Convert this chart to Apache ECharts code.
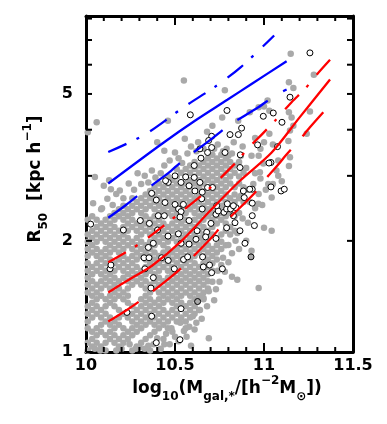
<!DOCTYPE html>
<html>
<head>
    <title>R50 vs stellar mass</title>
    <script src="https://cdn.jsdelivr.net/npm/echarts@6/dist/echarts.min.js"></script>
</head>
<body style="margin:0;">
    <div id="chart" style="width: 387px; height: 424px;"></div>
    <script>
        // grey galaxies, dense part: each row is [log10 M, R50, R50, ...]
        var greyCols = [
          [10.01, 1.01,1.06,1.16,1.21,1.27,1.33,1.45,1.52,1.59,1.66,1.74,1.82,1.90,1.99,2.08,2.28],
          [10.035, 1.035,1.085,1.135,1.24,1.30,1.36,1.42,1.485,1.555,1.625,1.70,1.86,1.945,2.035,2.13,2.33],
          [10.06, 1.06,1.11,1.16,1.27,1.33,1.39,1.45,1.52,1.66,1.74,1.82,1.90,1.99,2.08,2.18,2.28],
          [10.085, 1.035,1.135,1.185,1.24,1.30,1.42,1.485,1.555,1.625,1.70,1.78,1.86,2.035,2.13,2.23,2.435],
          [10.11, 1.01,1.06,1.11,1.21,1.27,1.33,1.39,1.52,1.59,1.66,1.74,1.82,1.90,1.99,2.08,2.18,2.28],
          [10.135, 1.085,1.135,1.185,1.24,1.36,1.42,1.485,1.555,1.625,1.78,1.86,1.945,2.035,2.13,2.23,2.33],
          [10.16, 1.06,1.11,1.16,1.21,1.33,1.39,1.45,1.52,1.59,1.66,1.74,1.90,1.99,2.08,2.18,2.28,2.38],
          [10.185, 1.035,1.085,1.185,1.24,1.30,1.42,1.485,1.555,1.70,1.78,1.86,1.945,2.035,2.13,2.33,2.435],
          [10.21, 1.06,1.11,1.16,1.27,1.39,1.45,1.59,1.66,1.74,1.82,1.90,1.99,2.08,2.18,2.28,2.38,2.49],
          [10.235, 1.085,1.135,1.24,1.36,1.42,1.485,1.555,1.625,1.70,1.78,1.945,2.035,2.13,2.23,2.33,2.435],
          [10.26, 1.01,1.11,1.16,1.21,1.27,1.33,1.52,1.59,1.66,1.74,1.82,1.90,1.99,2.18,2.28,2.38,2.49,2.61],
          [10.285, 1.035,1.135,1.185,1.24,1.30,1.555,1.625,1.70,1.78,1.86,1.945,2.035,2.13,2.23,2.435,2.55],
          [10.31, 1.06,1.16,1.21,1.27,1.33,1.39,1.52,1.59,1.66,1.82,1.90,1.99,2.08,2.18,2.28,2.38,2.49,2.61],
          [10.335, 1.085,1.185,1.24,1.30,1.36,1.42,1.485,1.555,1.625,1.70,1.78,1.86,1.945,2.13,2.23,2.33,2.435,2.55,2.67],
          [10.36, 1.01,1.11,1.21,1.27,1.33,1.39,1.45,1.52,1.66,1.74,1.82,1.90,1.99,2.08,2.18,2.28,2.49,2.61,2.73],
          [10.385, 1.135,1.185,1.24,1.30,1.36,1.485,1.555,1.625,1.70,1.78,1.86,1.945,2.035,2.13,2.23,2.33,2.435,2.55,2.67,2.795],
          [10.41, 1.16,1.21,1.27,1.33,1.39,1.45,1.52,1.59,1.66,1.74,1.82,1.99,2.08,2.18,2.28,2.38,2.49,2.61,2.73,2.86],
          [10.435, 1.085,1.185,1.24,1.30,1.36,1.42,1.485,1.555,1.70,1.78,1.86,1.945,2.035,2.13,2.23,2.33,2.435,2.55,2.67,2.795],
          [10.46, 1.16,1.21,1.27,1.39,1.45,1.52,1.59,1.66,1.74,1.82,1.90,1.99,2.08,2.18,2.38,2.49,2.61,2.73,2.86,2.99],
          [10.485, 1.135,1.24,1.30,1.36,1.42,1.485,1.555,1.625,1.70,1.78,1.86,2.035,2.13,2.23,2.33,2.435,2.55,2.67,2.795,2.925],
          [10.51, 1.21,1.27,1.33,1.39,1.45,1.52,1.59,1.66,1.74,1.82,1.90,1.99,2.08,2.18,2.28,2.38,2.49,2.61,2.73,2.86,2.99,3.13],
          [10.535, 1.24,1.36,1.42,1.485,1.555,1.625,1.70,1.78,1.86,1.945,2.035,2.13,2.23,2.33,2.435,2.55,2.67,2.795,3.06],
          [10.56, 1.16,1.21,1.27,1.33,1.45,1.52,1.59,1.66,1.74,1.82,1.90,1.99,2.08,2.18,2.28,2.38,2.49,2.61,2.73,2.86,2.99,3.13],
          [10.585, 1.24,1.30,1.36,1.42,1.485,1.555,1.625,1.70,1.78,1.86,1.945,2.035,2.13,2.23,2.435,2.55,2.67,2.795,2.925,3.06,3.20],
          [10.61, 1.27,1.33,1.39,1.45,1.52,1.59,1.66,1.74,1.82,1.90,1.99,2.08,2.18,2.28,2.38,2.49,2.61,2.73,2.86,2.99,3.13,3.27],
          [10.635, 1.30,1.42,1.485,1.555,1.625,1.70,1.86,1.945,2.035,2.13,2.23,2.33,2.435,2.55,2.67,2.795,2.925,3.06,3.20],
          [10.66, 1.39,1.45,1.52,1.59,1.66,1.74,1.82,1.90,1.99,2.08,2.18,2.28,2.38,2.49,2.61,2.73,2.86,2.99,3.13,3.27],
          [10.685, 1.485,1.555,1.625,1.70,1.78,1.86,1.945,2.035,2.13,2.33,2.435,2.55,2.67,2.795,2.925,3.06,3.20,3.345],
          [10.71, 1.66,1.74,1.82,1.90,2.08,2.18,2.28,2.38,2.49,2.61,2.73,2.86,2.99,3.13,3.27,3.42],
          [10.735, 1.78,1.86,1.945,2.035,2.23,2.33,2.435,2.55,2.67,2.795,2.925,3.06,3.20,3.345],
          [10.76, 1.90,1.99,2.08,2.28,2.38,2.49,2.61,2.73,2.86,2.99,3.13,3.27,3.42],
          [10.785, 1.945,2.13,2.23,2.33,2.55,2.67,2.795,2.925,3.06,3.20,3.345],
          [10.81, 2.08,2.18,2.38,2.49,2.61,2.86,2.99,3.13,3.27],
          [10.835, 2.13,2.33,2.55,2.67,2.795,3.06,3.20],
          [10.86, 2.38,2.61,2.86,2.99,3.27],
          [10.885, 2.55,2.795,3.06]
        ];

        // grey galaxies, scattered ones round the edges
        var greySparse = [
          [10.01,3.94],[10.06,4.19],[10.05,2.98],[10.10,2.82],[10.14,2.76],[10.04,2.53],[10.17,2.68],[10.21,2.61],
          [10.09,2.45],[10.12,2.60],[10.15,2.50],[10.13,2.92],[10.19,2.74],[10.24,2.86],[10.27,2.75],[10.29,3.05],
          [10.31,2.85],[10.33,3.00],[10.35,2.88],[10.37,3.10],[10.39,2.97],[10.40,3.70],[10.44,3.51],[10.46,4.23],
          [10.50,3.47],[10.555,3.78],[10.55,5.44],[10.42,3.05],[10.44,3.20],[10.47,3.30],[10.52,3.35],[10.54,3.25],
          [10.57,3.45],[10.59,3.60],[10.62,3.50],[10.63,3.70],[10.66,3.55],[10.68,3.95],[10.71,4.10],[10.72,3.55],
          [10.74,3.65],[10.765,4.32],[10.78,5.12],[10.77,3.50],[10.79,3.55],[10.80,3.40],[10.82,3.45],[10.83,3.70],
          [10.855,4.23],[10.87,3.40],[10.88,3.60],[10.90,3.15],[10.92,4.46],[10.93,3.40],[10.95,3.80],[10.97,4.60],
          [10.98,3.55],[11.00,4.62],[11.02,4.80],[11.03,4.50],[11.00,3.70],[11.03,3.90],[11.05,3.65],[11.07,3.10],
          [11.08,3.00],[11.08,3.30],[11.10,2.90],[11.14,4.46],[11.155,4.32],[11.165,4.10],[11.146,3.98],[11.24,3.90],
          [11.137,3.73],[11.146,3.37],[11.14,3.19],[11.15,6.42],[11.28,5.64],[11.14,5.38],[11.165,5.19],[11.258,4.48],
          [10.97,3.40],[10.996,3.24],[10.977,3.07],[11.024,2.85],[11.043,2.62],[10.968,2.52],[10.91,2.24],[11.0,2.17],
          [11.043,2.13],[10.93,1.88],[10.85,2.10],[10.88,2.30],[10.90,2.00],[10.92,2.55],[10.95,2.45],[10.97,2.68],
          [10.99,2.50],[11.01,2.75],[11.05,2.85],[10.98,2.95],[10.95,3.05],[10.94,2.85],[10.91,2.75],[10.87,2.65],
          [10.84,2.00],[10.86,1.90],[10.82,1.85],[10.80,1.75],[10.78,1.65],[10.82,1.60],[10.85,1.57],[10.97,1.49],
          [10.75,1.55],[10.72,1.38],[10.69,1.46],[10.66,1.40],[10.64,1.30],[10.60,1.25],[10.62,1.20],[10.58,1.17],
          [10.55,1.14],[10.53,1.20],[10.565,1.10],[10.59,1.04],[10.69,1.09],[10.50,1.10],[10.47,1.05],[10.45,1.12],
          [10.42,1.02],[10.40,1.09],[10.38,1.05],[10.35,1.04],[10.33,1.02],[10.30,1.03],[10.71,1.55],[10.74,1.66],
          [10.77,1.80],[10.80,1.95],[10.76,1.72],[10.73,1.48],[10.68,1.33],[10.65,1.23],[10.61,1.15],[10.52,1.07],
          [10.48,1.16],[10.44,1.05],[10.28,1.02],[10.245,1.05],[10.20,1.02],[10.17,1.01],[10.08,1.01],[10.05,1.02]
        ];

        // open circles
        var circles = [
          [10.026,2.22],[11.258,6.46],[10.586,4.39],[10.792,4.51],[11.146,4.90],[10.996,4.35],[11.052,4.44],[11.101,4.19],
          [10.874,4.04],[10.856,3.88],[10.809,3.88],[10.706,3.84],[10.964,3.64],[11.076,3.60],[10.689,3.74],[10.706,3.58],
          [10.64,3.55],[10.683,3.47],[10.781,3.47],[10.867,3.42],[10.646,3.35],[10.608,3.20],[10.865,3.16],[11.039,3.26],
          [10.50,3.00],[10.56,2.98],[10.608,2.97],[10.462,2.88],[10.534,2.88],[10.579,2.82],[10.64,2.88],[10.683,2.79],
          [10.612,2.73],[10.653,2.71],[10.369,2.69],[10.395,2.58],[10.444,2.54],[10.50,2.51],[10.547,2.51],[10.52,2.44],
          [10.534,2.40],[10.406,2.34],[10.44,2.34],[10.528,2.32],[10.579,2.27],[10.305,2.27],[10.356,2.23],[10.402,2.14],
          [10.461,2.06],[10.519,2.09],[10.624,2.13],[10.678,2.11],[10.672,2.05],[10.618,2.02],[10.579,1.96],[10.534,1.97],
          [10.73,2.03],[10.702,2.23],[10.73,2.36],[10.775,2.39],[10.79,2.44],[10.794,2.52],[10.812,2.44],[10.843,2.46],
          [10.828,2.34],[10.837,2.24],[10.865,2.13],[10.889,2.62],[10.884,2.73],[10.934,2.76],[10.934,2.34],[10.946,2.20],
          [10.893,1.97],[10.711,2.79],[10.65,2.60],[10.743,2.41],[10.21,2.14],[10.378,1.97],[10.35,1.92],[10.326,1.80],
          [10.354,1.80],[10.425,1.80],[10.462,1.77],[10.548,1.78],[10.571,1.81],[10.331,1.68],[10.496,1.68],[10.694,1.72],
          [10.655,1.81],[10.659,1.70],[10.766,1.68],[10.706,1.64],[10.135,1.68],[10.14,1.72],[10.378,1.59],[10.365,1.49],
          [10.23,1.28],[10.369,1.25],[10.534,1.31],[10.395,1.06],[10.528,1.08],[11.039,2.80],[11.096,2.73],[11.114,2.76],
          [11.028,3.25],[10.447,2.91],[10.653,2.44],[10.734,2.49],[10.828,2.49],[10.92,2.76],[10.934,2.53],[10.79,2.17]
        ];
        // circles with grey fill
        var circlesGrey = [[10.627,1.37],[10.927,1.81]];

        // model curves
        var blueSolid = [[10.125,2.86],[10.425,3.66],[10.612,4.23],[10.794,4.82],[10.93,5.32],[11.127,6.13]];
        var blueUpper = [[10.125,3.48],[10.33,3.88],[10.556,4.63],[10.72,5.21],[10.87,5.91],[11.057,7.2]];
        var blueLower = [[10.125,2.31],[10.219,2.49],[10.303,2.68],[10.462,3.05],[10.537,3.28],[10.706,3.78],
                         [10.80,4.10],[10.968,4.6],[11.062,4.95],[11.127,5.14]];
        var redSolid = [[10.125,1.45],[10.25,1.58],[10.369,1.71],[10.537,2.0],[10.70,2.42],[10.865,2.91],
                        [11.043,3.47],[11.2,4.32],[11.371,5.47]];
        var redUpper = [[10.125,1.75],[10.238,1.88],[10.331,2.01],[10.453,2.23],[10.537,2.40],[10.678,2.73],
                        [10.837,3.24],[10.912,3.57],[10.987,3.88],[11.062,4.23],[11.155,4.75],[11.23,5.16],
                        [11.296,5.64],[11.371,6.19]];
        var redLower = [[10.125,1.21],[10.219,1.29],[10.303,1.375],[10.462,1.575],[10.537,1.69],[10.697,2.02],
                        [10.771,2.22],[10.949,2.70],[11.024,3.00],[11.09,3.26],[11.118,3.39],[11.193,3.72],
                        [11.258,4.06],[11.333,4.46]];

        var yTicks = [1, 2, 3, 4, 5, 6, 7, 8];
        var yLabels = [1, 2, 5];
        var xTitle = '{n|log}{s|10}{n|(M}{s|gal,*}{n|/[h}{p|−2}{n|M}{s|⊙}{n|])}';
        var yTitle = '{n|R}{s|50}{n|  [kpc h}{p|−1}{n|]}';

        var greyData = [];
        greyCols.forEach(function (col) {
            for (var i = 1; i < col.length; i++) greyData.push([col[0], col[i]]);
        });
        greyData = greyData.concat(greySparse);

        // x tick marks every 0.1, long ones every 0.5
        var xTickData = [];
        for (var i = 0; i <= 15; i++) xTickData.push([+(10 + i * 0.1).toFixed(1), i % 5 === 0 ? 9 : 5]);

        var font = 'DejaVu Sans';
        var black = '#000';

        function xAxisOf(pos, withLabels) {
            return {
                type: 'value', position: pos, min: 10, max: 11.5, interval: 0.5,
                axisLine: { show: true, lineStyle: { color: black, width: 3 } },
                axisTick: { show: false }, minorTick: { show: false },
                splitLine: { show: false },
                axisLabel: { show: withLabels, margin: 6, color: black, fontFamily: font, fontWeight: 'bold', fontSize: 16 }
            };
        }
        function yAxisOf(pos, withLabels) {
            return {
                type: 'log', logBase: 10, position: pos, min: 1, max: 8.13,
                axisLine: { show: true, lineStyle: { color: black, width: 3 } },
                axisTick: { show: false },
                splitLine: { show: false },
                axisLabel: { show: withLabels, customValues: yLabels, margin: 13, color: black, fontFamily: font, fontWeight: 'bold', fontSize: 16,
                             formatter: function (v) { return String(Math.round(v)); } }
            };
        }

        // rich styles for the two axis titles (drawn as graphic text)
        var rich = {
            n: { fontFamily: font, fontWeight: 'bold', fontSize: 17, fill: black, lineHeight: 28, verticalAlign: 'middle' },
            s: { fontFamily: font, fontWeight: 'bold', fontSize: 12, fill: black, lineHeight: 12, verticalAlign: 'bottom' },
            p: { fontFamily: font, fontWeight: 'bold', fontSize: 12, fill: black, lineHeight: 18, verticalAlign: 'top' }
        };
        var titles = [
            { type: 'text', x: 227, y: 389, silent: true,
              style: { text: xTitle, rich: rich, align: 'center', verticalAlign: 'middle', fill: black } },
            { type: 'text', x: 36, y: 179, rotation: Math.PI / 2, silent: true,
              style: { text: yTitle, rich: rich, align: 'center', verticalAlign: 'middle', fill: black } }
        ];

        function curve(data, color, dash) {
            return {
                type: 'line', data: data,
                showSymbol: false, smooth: 0.3, silent: true,
                lineStyle: { color: color, width: 2.3, type: dash, cap: 'butt' }
            };
        }

        var chart = echarts.init(document.querySelector('#chart'));
        chart.setOption({
            animation: false,
            grid: { left: 86, right: 34, top: 16, bottom: 72 },
            xAxis: [xAxisOf('bottom', true), xAxisOf('top', false)],
            yAxis: [yAxisOf('left', true), yAxisOf('right', false)],
            graphic: titles,
            series: [
                { type: 'scatter', data: greyData, symbol: 'circle', symbolSize: 6.5, silent: true,
                  itemStyle: { color: '#a9a9a9', opacity: 1 } },
                curve(blueSolid, '#0000ff', 'solid'),
                curve(blueUpper, '#0000ff', [20, 11, 3, 13]),
                curve(blueLower, '#0000ff', [36, 18]),
                curve(redSolid, '#ff0000', 'solid'),
                curve(redUpper, '#ff0000', [20, 11, 3, 13]),
                curve(redLower, '#ff0000', [36, 18]),
                { type: 'scatter', data: circles, symbol: 'circle', symbolSize: 6, silent: true,
                  itemStyle: { color: '#fff', borderColor: black, borderWidth: 1, opacity: 1 } },
                { type: 'scatter', data: circlesGrey, symbol: 'circle', symbolSize: 6, silent: true,
                  itemStyle: { color: '#a9a9a9', borderColor: black, borderWidth: 1, opacity: 1 } }
            ]
        });

        // tick marks, placed through the chart's own axes
        var tickStyle = { stroke: black, lineWidth: 2 };
        var xLeft = chart.convertToPixel({ xAxisIndex: 0 }, 10);
        var xRight = chart.convertToPixel({ xAxisIndex: 0 }, 11.5);
        var yBottom = chart.convertToPixel({ yAxisIndex: 0 }, 1);
        var yTop = chart.convertToPixel({ yAxisIndex: 0 }, 8.13);
        var ticks = [];
        xTickData.forEach(function (t) {
            var px = chart.convertToPixel({ xAxisIndex: 0 }, t[0]);
            ticks.push({ type: 'line', silent: true, z: 100, style: tickStyle,
                         shape: { x1: px, y1: yBottom, x2: px, y2: yBottom - t[1] } });
            ticks.push({ type: 'line', silent: true, z: 100, style: tickStyle,
                         shape: { x1: px, y1: yTop, x2: px, y2: yTop + t[1] } });
        });
        yTicks.forEach(function (r) {
            var py = chart.convertToPixel({ yAxisIndex: 0 }, r);
            ticks.push({ type: 'line', silent: true, z: 100, style: tickStyle,
                         shape: { x1: xLeft, y1: py, x2: xLeft + 6, y2: py } });
            ticks.push({ type: 'line', silent: true, z: 100, style: tickStyle,
                         shape: { x1: xRight, y1: py, x2: xRight - 6, y2: py } });
        });
        chart.setOption({ graphic: titles.concat(ticks) });
    </script>
</body>
</html>
